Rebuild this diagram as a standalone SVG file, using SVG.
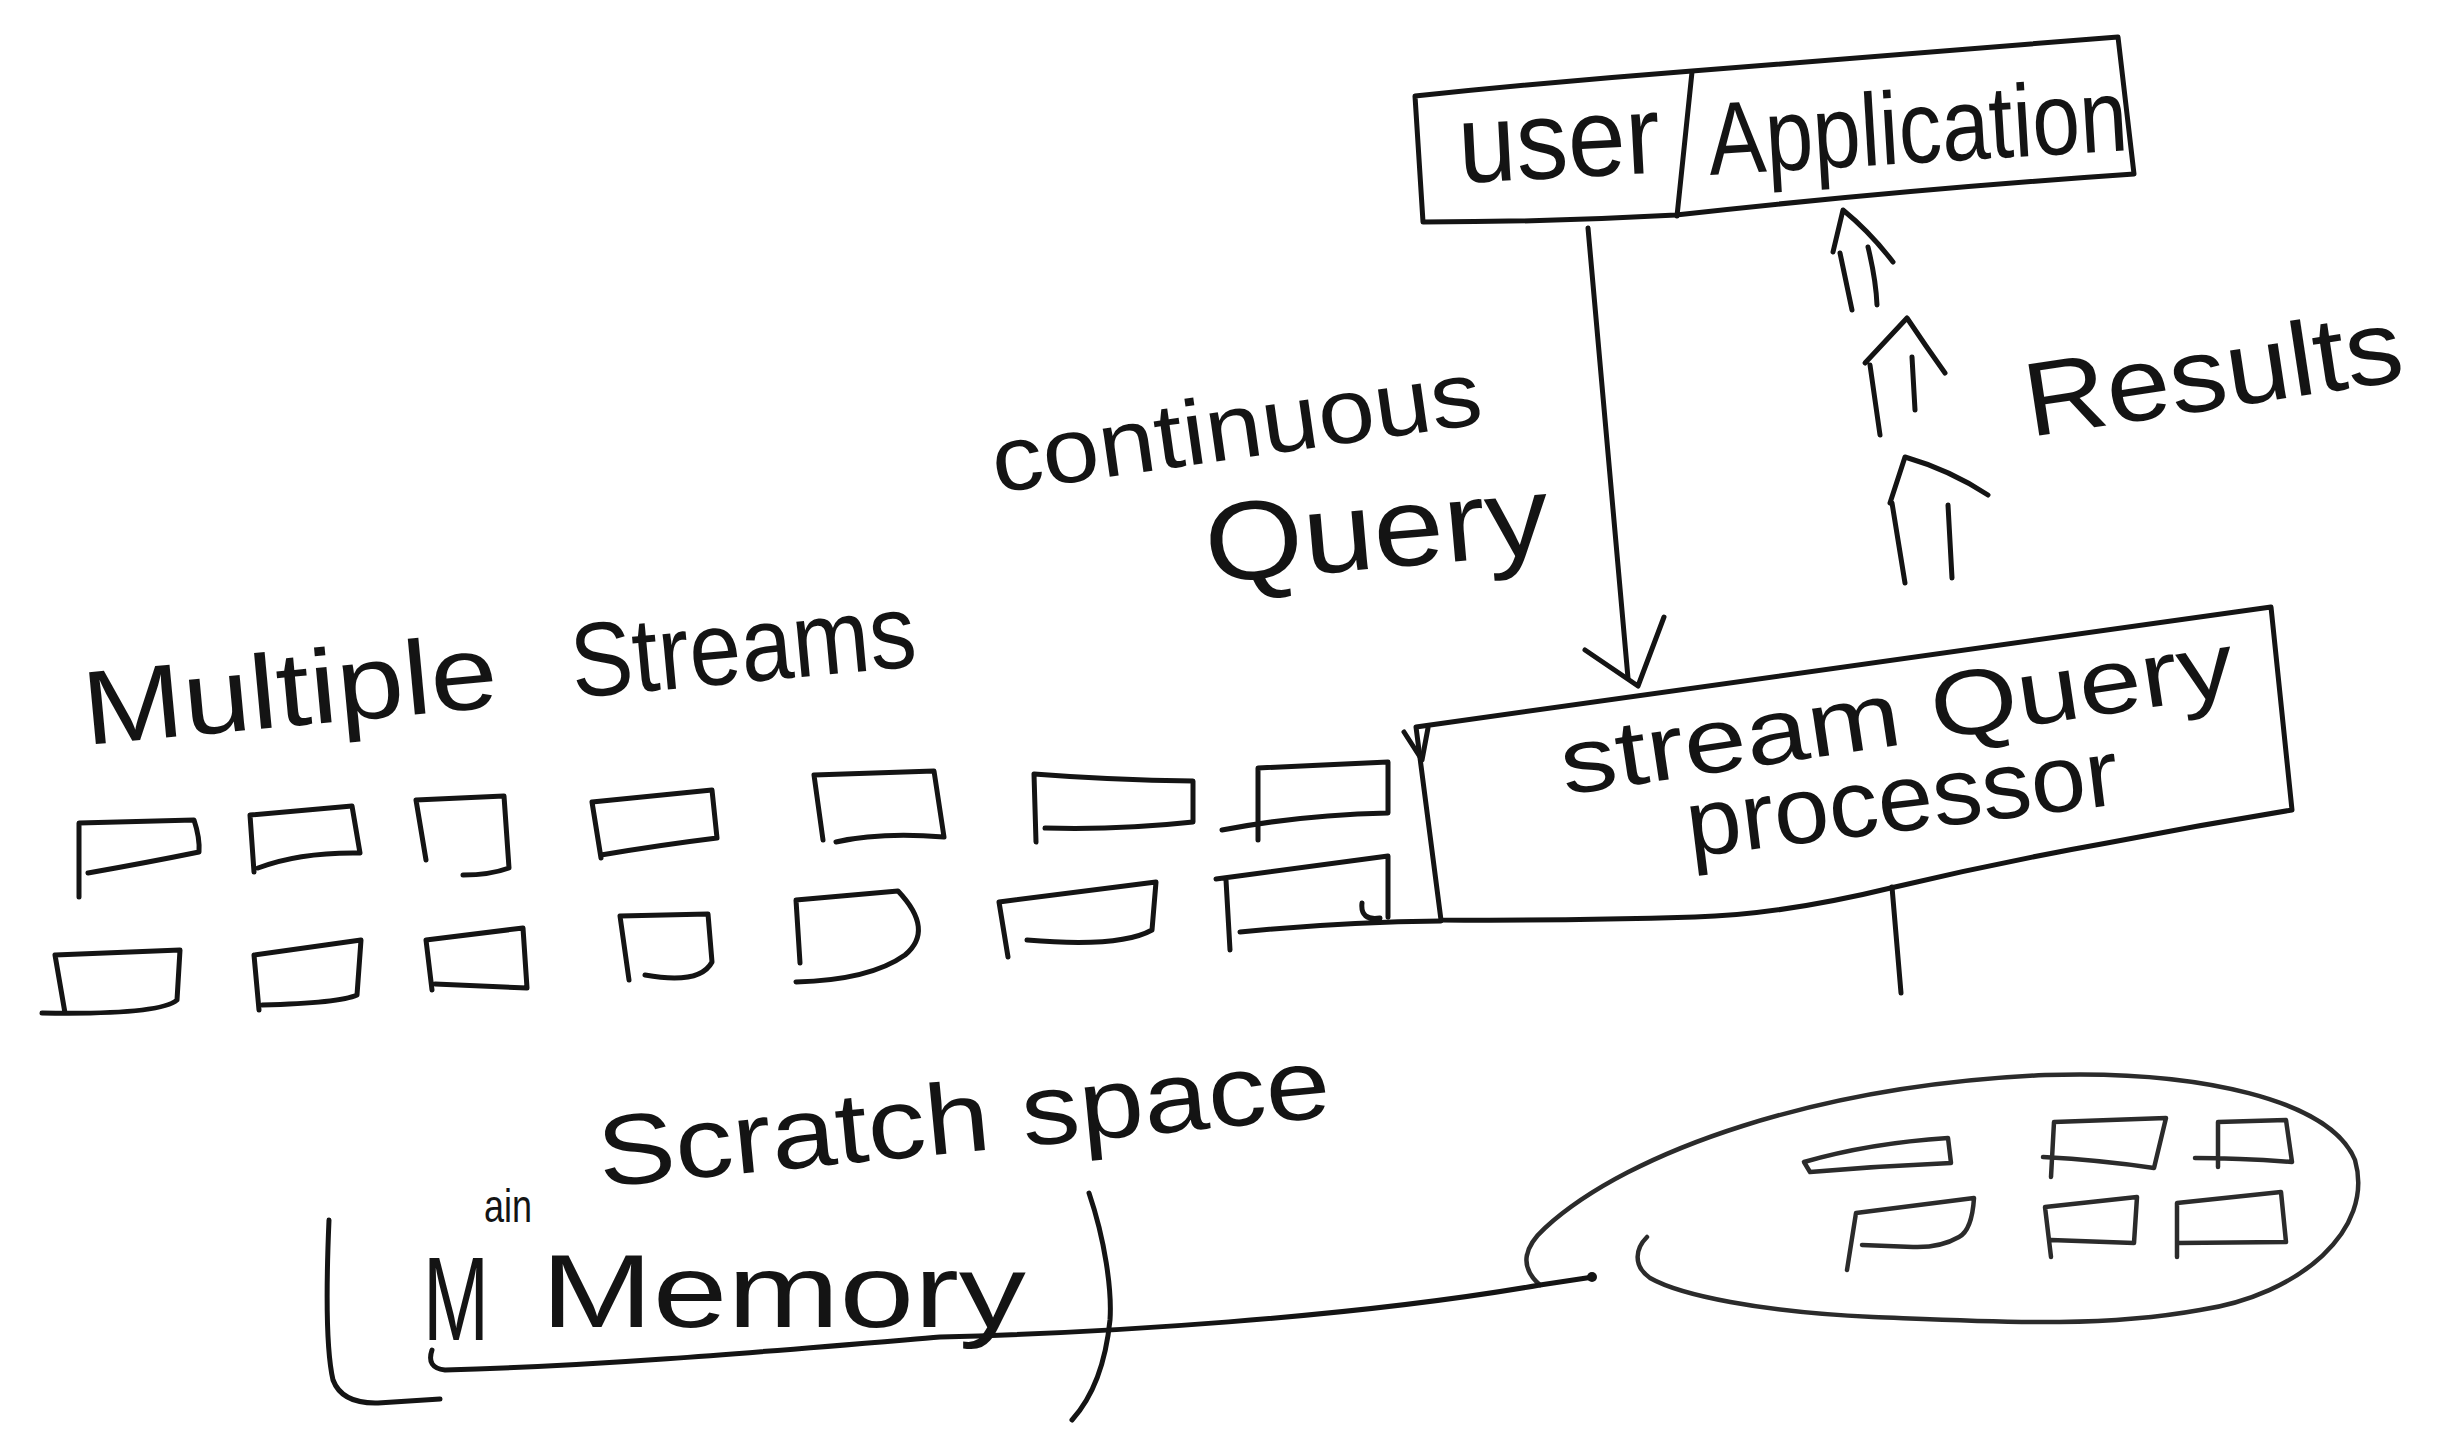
<svg xmlns="http://www.w3.org/2000/svg" width="2451" height="1440" viewBox="0 0 2451 1440">
  <style>
    .ink { fill: none; stroke: #141414; stroke-width: 5; stroke-linecap: round; stroke-linejoin: round; }
    .fine { fill: none; stroke: #2b2b2b; stroke-width: 4.5; stroke-linecap: round; stroke-linejoin: round; }
    .hand { font-family: "Liberation Sans", "DejaVu Sans", sans-serif; fill: #141414; }
  </style>
  <rect width="2451" height="1440" fill="#ffffff"/>

  <!-- User / Application box -->
  <g id="user-application">
    <path class="ink" d="M1415,96 Q1550,82 1692,71 Q1900,54 2118,37 L2134,174 Q1900,190 1676,215 Q1550,222 1423,222 Z"/>
    <path class="ink" d="M1692,72 L1677,216"/>
    <text class="hand" x="1460" y="183" font-size="112" textLength="202" lengthAdjust="spacingAndGlyphs" transform="rotate(-3 1460 183)">user</text>
    <text class="hand" x="1710" y="175" font-size="103" textLength="420" lengthAdjust="spacingAndGlyphs" transform="rotate(-3.4 1710 175)">Application</text>
  </g>

  <!-- Stream query processor -->
  <g id="stream-query-processor">
    <path class="ink" d="M1416,727 Q1850,668 2271,607 L2292,810 Q2200,825 2107,843 Q2000,862 1895,887 Q1780,915 1695,917 Q1560,921 1441,920 L1416,727"/>
    <path class="ink" d="M1404,732 L1422,760 L1428,728"/>
    <text class="hand" x="1565" y="795" font-size="92" textLength="680" lengthAdjust="spacingAndGlyphs" transform="rotate(-8.5 1565 795)">stream Query</text>
    <text class="hand" x="1690" y="857" font-size="95" textLength="435" lengthAdjust="spacingAndGlyphs" transform="rotate(-7 1690 857)">processor</text>
  </g>

  <!-- Incoming streams: two rows of tuples -->
  <g id="input-streams">
    <g id="stream-row-1">
      <path class="ink" d="M79,897 L79,823 L194,820 Q200,838 199,852 Q150,862 88,873"/>
      <path class="ink" d="M254,872 L250,815 L352,806 L360,853 Q300,852 258,868"/>
      <path class="ink" d="M426,860 L416,800 L504,796 L509,868 Q490,875 463,875"/>
      <path class="ink" d="M601,858 L592,802 L712,790 L717,838 Q660,845 601,855"/>
      <path class="ink" d="M823,840 L814,775 L934,771 L944,837 Q880,832 836,842"/>
      <path class="ink" d="M1036,842 L1034,774 Q1110,780 1193,781 L1193,822 Q1120,830 1045,828"/>
      <path class="ink" d="M1258,840 L1258,768 L1388,762 L1388,813 Q1300,815 1222,830"/>
    </g>
    <g id="stream-row-2">
      <path class="ink" d="M65,1013 L55,955 L180,950 L177,1000 Q160,1015 42,1013"/>
      <path class="ink" d="M259,1010 L254,955 L361,940 L357,995 Q340,1003 262,1005"/>
      <path class="ink" d="M432,990 L426,940 L523,928 L527,988 L435,984"/>
      <path class="ink" d="M629,980 L620,916 L708,914 L712,962 Q700,985 645,975"/>
      <path class="ink" d="M800,963 L796,900 L898,891 Q935,930 905,955 Q870,980 796,982"/>
      <path class="ink" d="M1008,957 L999,902 L1156,882 L1152,930 Q1120,948 1027,940"/>
      <path class="ink" d="M1230,950 L1226,880 M1216,879 L1388,856 L1388,917 M1362,903 Q1360,921 1380,918 M1240,932 Q1340,922 1441,921"/>
    </g>
  </g>

  <!-- Scratch space (main memory) bubble -->
  <g id="scratch-space">
    <path class="fine" d="M1540,1285 C1518,1266 1525,1246 1545,1228 C1630,1150 1820,1085 2045,1075 C2200,1070 2330,1100 2355,1160 C2375,1230 2300,1295 2200,1310 C2100,1328 2000,1322 1873,1317 C1760,1312 1680,1295 1650,1278 C1632,1265 1636,1248 1647,1237"/>
    <path class="fine" d="M1810,1172 L1804,1162 Q1870,1143 1948,1138 L1951,1163 Q1880,1166 1810,1172"/>
    <path class="fine" d="M2051,1177 L2054,1122 L2166,1118 L2154,1168 Q2100,1160 2043,1157"/>
    <path class="fine" d="M2218,1167 L2218,1122 L2286,1120 L2292,1162 Q2240,1158 2195,1158"/>
    <path class="fine" d="M1847,1270 L1856,1213 L1974,1198 Q1972,1230 1959,1237 Q1940,1248 1913,1247 L1862,1245"/>
    <path class="fine" d="M2051,1257 L2045,1207 L2137,1197 L2134,1243 L2051,1240"/>
    <path class="fine" d="M2177,1257 L2177,1203 L2281,1192 L2286,1242 L2177,1243"/>
  </g>

  <!-- Free labels -->
  <g id="labels">
    <text class="hand" x="86" y="745" font-size="105" textLength="416" lengthAdjust="spacingAndGlyphs" transform="rotate(-5.3 86 745)">Multiple</text>
    <text class="hand" x="574" y="698" font-size="105" textLength="346" lengthAdjust="spacingAndGlyphs" transform="rotate(-5.3 574 698)">Streams</text>
    <text class="hand" x="996" y="493" font-size="92" textLength="494" lengthAdjust="spacingAndGlyphs" transform="rotate(-8.1 996 493)">continuous</text>
    <text class="hand" x="1208" y="583" font-size="112" textLength="345" lengthAdjust="spacingAndGlyphs" transform="rotate(-5 1208 583)">Query</text>
    <text class="hand" x="2030" y="437" font-size="105" textLength="381" lengthAdjust="spacingAndGlyphs" transform="rotate(-8.6 2030 437)">Results</text>
    <text class="hand" x="601" y="1187" font-size="100" textLength="735" lengthAdjust="spacingAndGlyphs" transform="rotate(-5.5 601 1187)">Scratch space</text>
  </g>

  <!-- Main memory caption in brackets -->
  <g id="main-memory">
    <path class="ink" d="M329,1220 C326,1290 326,1350 333,1380 Q342,1404 378,1403 L440,1399"/>
    <path class="ink" d="M1089,1193 C1105,1240 1112,1290 1110,1320 C1105,1370 1090,1400 1072,1420"/>
    <text class="hand"><tspan x="423" y="1340" font-size="118" textLength="66" lengthAdjust="spacingAndGlyphs">M</tspan><tspan x="484" y="1222" font-size="46" textLength="48" lengthAdjust="spacingAndGlyphs">ain</tspan><tspan x="541" y="1327" font-size="104" textLength="485" lengthAdjust="spacingAndGlyphs">Memory</tspan></text>
  </g>

  <!-- Connectors -->
  <g id="connectors">
    <!-- continuous query: application down to processor -->
    <path class="ink" d="M1588,228 L1628,678"/>
    <path class="ink" d="M1585,650 L1638,686 L1664,617"/>
    <!-- results flowing up to the application -->
    <path class="ink" d="M1833,252 L1843,210 Q1870,232 1893,262 M1840,253 L1852,310 M1868,247 Q1876,280 1877,305"/>
    <path class="ink" d="M1865,363 L1907,318 Q1925,345 1945,373 M1870,365 L1880,435 M1912,357 L1915,410"/>
    <path class="ink" d="M1890,503 L1905,457 Q1950,470 1988,495 M1892,503 L1905,583 M1948,505 L1952,578"/>
    <!-- processor down toward scratch space -->
    <path class="ink" d="M1892,887 L1901,993"/>
    <!-- main memory link to the scratch space bubble -->
    <path class="ink" d="M432,1350 Q426,1368 445,1370 C600,1366 760,1352 940,1337 C1100,1333 1350,1318 1540,1285 L1593,1277"/>
    <circle cx="1592" cy="1277" r="5" fill="#141414"/>
  </g>
</svg>
